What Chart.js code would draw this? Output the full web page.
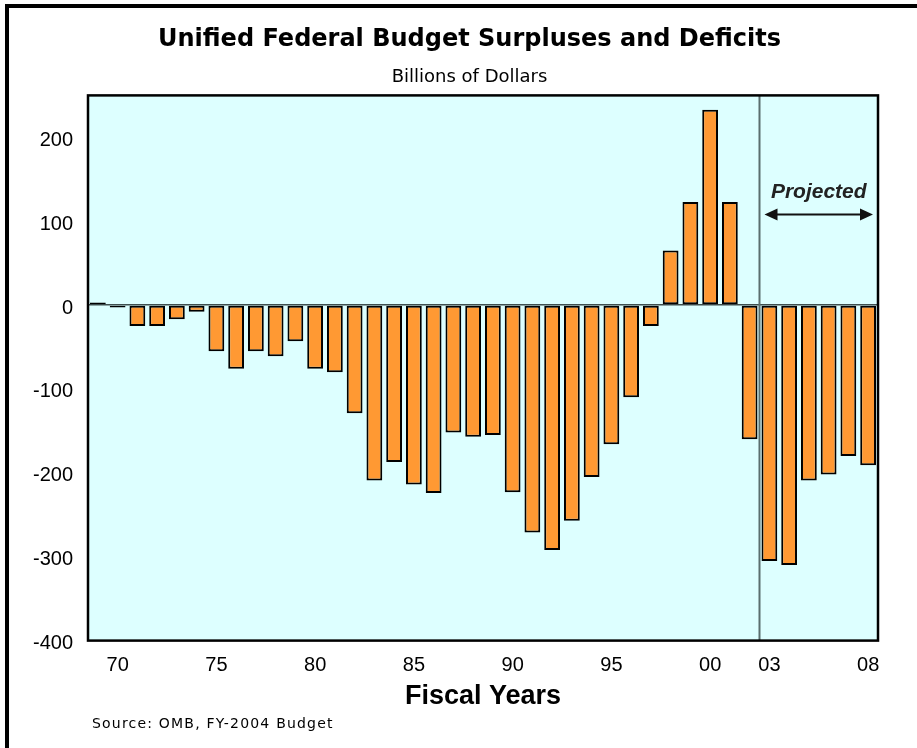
<!DOCTYPE html>
<html>
<head>
<meta charset="utf-8">
<script src="https://cdn.jsdelivr.net/npm/chart.js@4"></script>
<style>
  html, body { margin: 0; padding: 0; background: #fff; }
  body { width: 917px; height: 748px; position: relative; overflow: hidden; }
  #frame {
    position: absolute; left: 5px; top: 4px; right: 0; bottom: 0;
    border-top: 4px solid #000; border-left: 4px solid #000;
  }
  #chart { position: absolute; left: 9px; top: 8px; }
  #source {
    position: absolute; left: 92px; top: 715px;
    font: 14px "DejaVu Sans", sans-serif; letter-spacing: 1.2px; color: #000;
  }
</style>
</head>
<body>
<div id="frame"></div>
<canvas id="chart" width="908" height="740"></canvas>
<div id="source">Source: OMB, FY-2004 Budget</div>
<script>
const years = ['1969','1970','1971','1972','1973','1974','1975','1976','1977','1978',
  '1979','1980','1981','1982','1983','1984','1985','1986','1987','1988',
  '1989','1990','1991','1992','1993','1994','1995','1996','1997','1998',
  '1999','2000','2001','2002','2003','2004','2005','2006','2007','2008']

// billions of dollars
const balance = [3, -3, -25, -25, -17, -8, -55, -76, -55, -61,
  -43, -76, -80, -129, -209, -187, -214, -224, -152, -157,
  -155, -223, -271, -292, -257, -205, -166, -110, -25, 65,
  123, 233, 123, -160, -305, -310, -209, -202, -180, -191]

const xTickYears = ['1970','1975','1980','1985','1990','1995','2000','2003','2008']
const xTickText = ['70','75','80','85','90','95','00','03','08']
const yTickValues = [-400, -300, -200, -100, 0, 100, 200]

const projectedStart = '2003'
const projectedText = 'Projected'

const framePlugin = {
  id: 'frame',
  afterLayout(chart) {
    // titles sit a little left of the plot centre in the original
    chart.boxes.filter(b => !b.axis && b.position === 'top').forEach(b => {
      b.left += 26
      b.right += 26
    })
  },
  beforeDraw(chart) {
    const {ctx, chartArea: a} = chart
    ctx.save()
    ctx.fillStyle = '#ddffff'
    ctx.fillRect(a.left, a.top, a.right - a.left, a.bottom - a.top)
    ctx.restore()
  },
  afterDatasetsDraw(chart) {
    const {ctx, chartArea: a, scales} = chart
    const x = scales.x, y = scales.y
    const i = years.indexOf(projectedStart)
    const sepX = (x.getPixelForValue(i - 1) + x.getPixelForValue(i)) / 2
    ctx.save()
    // separator between actual and projected
    ctx.strokeStyle = '#5a6e6e'
    ctx.lineWidth = 2
    ctx.beginPath()
    ctx.moveTo(sepX, a.top)
    ctx.lineTo(sepX, a.bottom)
    ctx.stroke()

    // Projected label + double arrow
    const midX = (sepX + a.right) / 2
    ctx.fillStyle = '#222'
    ctx.font = 'italic bold 21px "Liberation Sans", Arial, sans-serif'
    ctx.textAlign = 'center'
    ctx.textBaseline = 'middle'
    ctx.fillText(projectedText, midX, y.getPixelForValue(134))

    const ay = y.getPixelForValue(108)
    const x0 = sepX + 5, x1 = a.right - 5
    ctx.strokeStyle = '#111'
    ctx.lineWidth = 2
    ctx.beginPath()
    ctx.moveTo(x0 + 8, ay)
    ctx.lineTo(x1 - 8, ay)
    ctx.stroke()
    ctx.fillStyle = '#111'
    ctx.beginPath()
    ctx.moveTo(x0, ay); ctx.lineTo(x0 + 13, ay - 6); ctx.lineTo(x0 + 13, ay + 6); ctx.closePath()
    ctx.fill()
    ctx.beginPath()
    ctx.moveTo(x1, ay); ctx.lineTo(x1 - 13, ay - 6); ctx.lineTo(x1 - 13, ay + 6); ctx.closePath()
    ctx.fill()

    // plot border
    ctx.strokeStyle = '#000'
    ctx.lineWidth = 2.5
    ctx.strokeRect(a.left, a.top, a.right - a.left, a.bottom - a.top)
    ctx.restore()
  }
}

new Chart(document.getElementById('chart'), {
  type: 'bar',
  data: {
    labels: years,
    datasets: [{
      data: balance,
      backgroundColor: '#ff9933',
      borderColor: '#000',
      borderWidth: 2,
      borderSkipped: false,
      barPercentage: 0.8,
      categoryPercentage: 1
    }]
  },
  options: {
    responsive: false,
    animation: false,
    events: [],
    layout: {
      padding: { left: 0, right: 39, top: 0, bottom: 35 }
    },
    plugins: {
      legend: { display: false },
      tooltip: { enabled: false },
      title: {
        display: true,
        text: 'Unified Federal Budget Surpluses and Deficits',
        color: '#000',
        font: { family: '"DejaVu Sans", sans-serif', size: 24, weight: 'bold' },
        padding: { top: 17, bottom: 13 }
      },
      subtitle: {
        display: true,
        text: 'Billions of Dollars',
        color: '#000',
        font: { family: '"DejaVu Sans", sans-serif', size: 18 },
        padding: { top: 0, bottom: 7 }
      }
    },
    scales: {
      x: {
        grid: {
          display: true,
          drawOnChartArea: false,
          drawTicks: true,
          tickLength: 13,
          color: 'rgba(0,0,0,0)'
        },
        border: { display: false },
        ticks: {
          autoSkip: false,
          maxRotation: 0,
          padding: 0,
          color: '#000',
          font: { family: '"Liberation Sans", Arial, sans-serif', size: 20 },
          callback: (value, index) => {
            const k = xTickYears.indexOf(years[index])
            return k >= 0 ? xTickText[k] : ''
          }
        },
        title: {
          display: true,
          text: 'Fiscal Years',
          color: '#000',
          font: { family: '"Liberation Sans", Arial, sans-serif', size: 27, weight: 'bold' },
          padding: { top: 3, bottom: 0 }
        }
      },
      y: {
        min: -400,
        max: 250,
        afterBuildTicks: (scale) => {
          scale.ticks = yTickValues.map(v => ({ value: v }))
        },
        afterFit: (scale) => { scale.width = 79 },
        border: { display: false },
        grid: {
          drawTicks: false,
          lineWidth: 1.5,
          color: (ctx) => ctx.tick && ctx.tick.value === 0 ? '#3f4f4f' : 'rgba(0,0,0,0)'
        },
        ticks: {
          padding: 15,
          labelOffset: 3,
          color: '#000',
          font: { family: '"Liberation Sans", Arial, sans-serif', size: 20 }
        }
      }
    }
  },
  plugins: [framePlugin]
})
</script>
</body>
</html>
